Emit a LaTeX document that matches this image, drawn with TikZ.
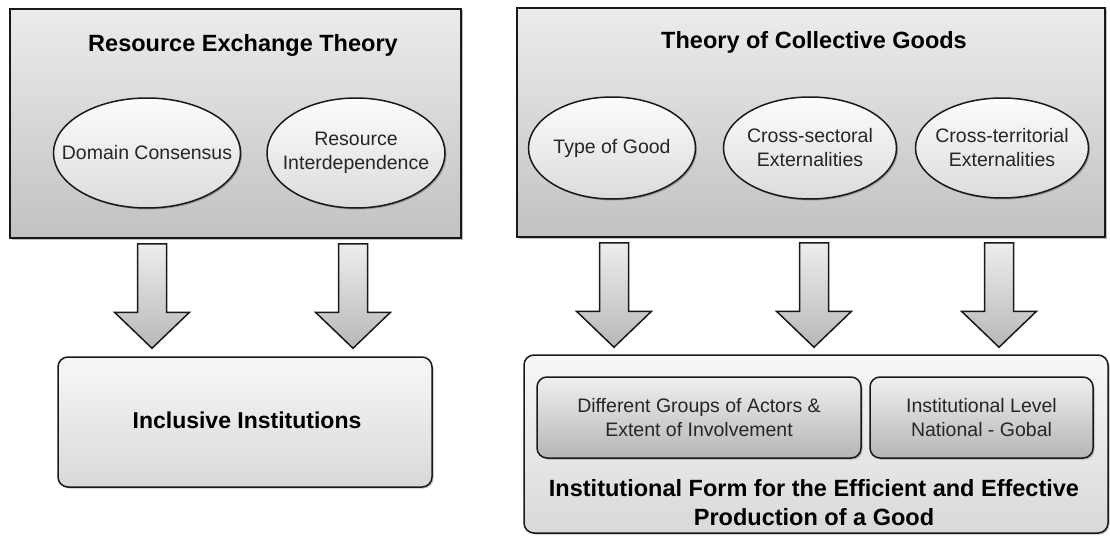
\documentclass[tikz,border=0pt]{standalone}
\usepackage{fontspec}
\setmainfont{Liberation Sans}
\usetikzlibrary{shapes.geometric}
\usetikzlibrary{shadows}
\usetikzlibrary{calc}

\tikzset{
  softshadow/.style={drop shadow={shadow xshift=1.5pt,shadow yshift=-1.5pt,fill=black,opacity=0.25}},
  theorybox/.style={rectangle,draw=black!90,line width=1.6pt,top color=gray!15,bottom color=gray!48,inner sep=0pt,softshadow},
  factor/.style={ellipse,draw=black!90,line width=1.5pt,top color=gray!2,bottom color=gray!28,inner sep=0pt,softshadow},
  resultbox/.style={rectangle,rounded corners=10pt,draw=black!90,line width=1.5pt,top color=gray!6,bottom color=gray!30,inner sep=0pt,softshadow},
  subbox/.style={rectangle,rounded corners=10pt,draw=black!90,line width=1.5pt,top color=gray!12,bottom color=gray!58,inner sep=0pt,softshadow},
  arrowbody/.style={draw=black!90,line width=1.5pt,line join=miter,top color=gray!14,bottom color=gray!56},
  headtext/.style={font=\fontsize{23.5}{28.5}\selectfont\bfseries,align=center,inner sep=0pt},
  plaintext/.style={font=\fontsize{19.5}{24}\selectfont,text=black!85,align=center,inner sep=0pt}
}

% shaft top at #1, tip at #2
\newcommand{\blockarrow}[2]{%
  \path[arrowbody] ($(#1)+(-14.5,0)$) -- ($(#1)+(14.5,0)$) -- ($(#2)+(14.5,-36)$)
    -- ($(#2)+(37.5,-36)$) -- (#2) -- ($(#2)+(-37.5,-36)$) -- ($(#2)+(-14.5,-36)$) -- cycle;}

\begin{document}
\begin{tikzpicture}[x=1pt,y=-1pt]
\useasboundingbox (0,0) rectangle (1110,535);

% Resource Exchange Theory
\node[theorybox,minimum width=451pt,minimum height=229pt] (ret) at (235.5,123.5) {};
\node[headtext] (rettitle) at (243,45) {Resource Exchange Theory};

\node[factor,minimum width=187pt,minimum height=110pt] (dc) at (147,153) {};
\node[plaintext] (dctext) at (dc) {Domain Consensus};
\node[factor,minimum width=178pt,minimum height=110pt] (ri) at (356,153) {};
\node[plaintext] (ritext) at (ri) {Resource\\Interdependence};

% Theory of Collective Goods
\node[theorybox,minimum width=588pt,minimum height=229pt] (tcg) at (811,122.5) {};
\node[headtext] (tcgtitle) at (814,42) {Theory of Collective Goods};

\node[factor,minimum width=167pt,minimum height=102pt] (tog) at (612,148) {};
\node[plaintext] (togtext) at (tog) {Type of Good};
\node[factor,minimum width=173pt,minimum height=102pt] (cse) at (810,148) {};
\node[plaintext] (csetext) at (cse) {Cross-sectoral\\Externalities};
\node[factor,minimum width=173pt,minimum height=100pt] (cte) at (1002,148) {};
\node[plaintext] (ctetext) at (cte) {Cross-territorial\\Externalities};

% Inclusive Institutions
\node[resultbox,minimum width=374pt,minimum height=130pt] (inc) at (245,422) {};
\node[headtext,font=\fontsize{23}{28}\selectfont\bfseries] (inctext) at (247,420) {Inclusive Institutions};

% Institutional Form
\node[resultbox,minimum width=584pt,minimum height=178pt] (ifg) at (816,444) {};
\node[subbox,minimum width=324pt,minimum height=81pt] (grp) at (699,417.5) {};
\node[plaintext] (grptext) at (grp) {Different Groups of Actors \&\\Extent of Involvement};
\node[subbox,minimum width=223pt,minimum height=81pt] (lvl) at (981.5,417.5) {};
\node[plaintext] (lvltext) at (lvl) {Institutional Level\\National - Gobal};
\node[headtext] (ifgtext) at (814,502.5) {Institutional Form for the Efficient and Effective\\Production of a Good};

% arrows
\coordinate (a1s) at ($(dc |- ret.south)+(5,5)$);
\coordinate (a1e) at ($(dc |- inc.north)+(5,-8)$);
\coordinate (a2s) at ($(ri |- ret.south)+(-3,5)$);
\coordinate (a2e) at ($(ri |- inc.north)+(-3,-8)$);
\coordinate (a3s) at ($(tog |- tcg.south)+(2,5)$);
\coordinate (a3e) at ($(tog |- ifg.north)+(2,-7)$);
\coordinate (a4s) at ($(cse |- tcg.south)+(4,5)$);
\coordinate (a4e) at ($(cse |- ifg.north)+(4,-7)$);
\coordinate (a5s) at ($(cte |- tcg.south)+(-3,5)$);
\coordinate (a5e) at ($(cte |- ifg.north)+(-3,-7)$);

\blockarrow{a1s}{a1e}
\blockarrow{a2s}{a2e}
\blockarrow{a3s}{a3e}
\blockarrow{a4s}{a4e}
\blockarrow{a5s}{a5e}

\end{tikzpicture}
\end{document}
